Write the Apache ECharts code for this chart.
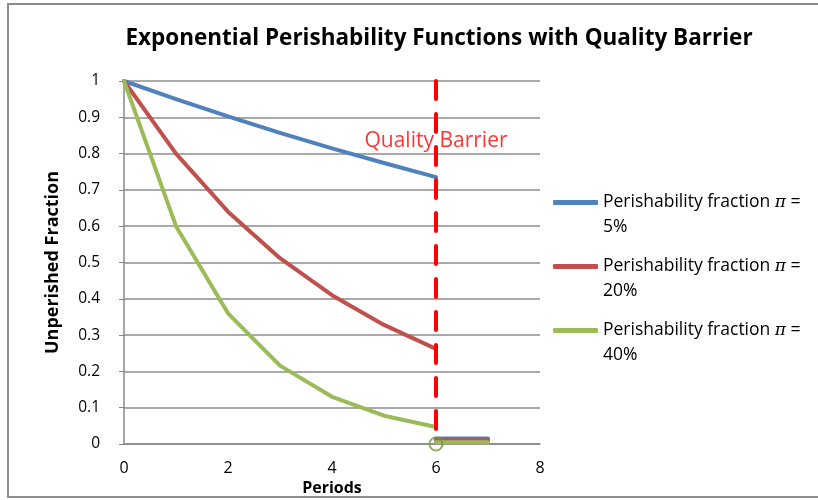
<!DOCTYPE html>
<html>
<head>
<meta charset="utf-8">
<script src="https://cdn.jsdelivr.net/npm/echarts@6/dist/echarts.min.js"></script>
<style>
  html, body { margin: 0; padding: 0; background: #fff; }
  #chart { width: 818px; height: 500px; }
</style>
</head>
<body>
<div id="chart"></div>
<script>
// periods 0..6 and the unperished fraction for each rate
var periods = [0, 1, 2, 3, 4, 5, 6];
var pi5 = [1, 0.95, 0.9025, 0.857, 0.8145, 0.774, 0.735];
var pi20 = [1, 0.8, 0.64, 0.512, 0.41, 0.328, 0.262];
var pi40 = [1, 0.6, 0.36, 0.216, 0.13, 0.078, 0.047];

// after the barrier: short flat pieces near zero
var tailX = [6, 7];
var tail5 = [0.015, 0.015];
var tail20 = [0.01, 0.01];
var tail40 = [0.005, 0.005];

var barrierX = 6;
var barrierY = [1, 0];
var barrierLabelY = 0.835;

var rates = ["5%", "20%", "40%"];
var names = rates.map(function (r) { return "Perishability fraction pi = " + r; });
var colors = ["#4F81BD", "#C0504D", "#9BBB59"];

function pairs(xs, ys) {
  return xs.map(function (x, i) { return [x, ys[i]]; });
}

var font = "'Open Sans', 'Noto Sans', sans-serif";
var chart = echarts.init(document.getElementById("chart"));

function lineSeries(name, data, color) {
  return {
    name: name || undefined,
    type: "line",
    data: data,
    symbol: "none",
    silent: true,
    lineStyle: { color: color, width: 4, cap: "round", join: "round" },
    itemStyle: { color: color },
    z: 3
  };
}

var option = {
  animation: false,
  title: {
    text: "Exponential Perishability Functions with Quality Barrier",
    left: 434,
    top: 22,
    textAlign: "center",
    textStyle: { fontFamily: font, fontSize: 22.5, fontWeight: "bold", color: "#000" }
  },
  grid: { left: 124, right: 278, top: 81, bottom: 56, outerBoundsMode: "none", containLabel: false },
  legend: {
    orient: "vertical",
    left: 553,
    top: 165,
    padding: 0,
    itemWidth: 45,
    itemHeight: 5,
    itemGap: -11,
    icon: "roundRect",
    data: names,
    selectedMode: false,
    // blank first line so the icon sits beside the first text line
    formatter: function (name) {
      var r = rates[names.indexOf(name)];
      return " \n{t|Perishability fraction }{p|\u03c0}{t| =}\n{t|" + r + "}";
    },
    textStyle: {
      fontFamily: font, fontSize: 17.5, color: "#000", lineHeight: 25,
      rich: {
        t: { fontFamily: font, fontSize: 17.5, color: "#000", lineHeight: 25 },
        p: { fontFamily: "'DejaVu Serif', serif", fontStyle: "italic", fontSize: 17, color: "#000", lineHeight: 25 }
      }
    }
  },
  xAxis: {
    type: "value",
    min: 0, max: 8, interval: 2,
    name: "Periods",
    nameLocation: "middle",
    nameGap: 25,
    nameTextStyle: { fontFamily: font, fontSize: 16, fontWeight: "bold", color: "#000" },
    axisLine: { show: true, lineStyle: { color: "#888", width: 1.5 } },
    axisTick: { show: false },
    axisLabel: { fontFamily: font, fontSize: 16, color: "#000", margin: 16 },
    splitLine: { show: false }
  },
  yAxis: {
    type: "value",
    min: 0, max: 1, interval: 0.1,
    name: "Unperished Fraction",
    nameLocation: "middle",
    nameGap: 62,
    nameTextStyle: { fontFamily: font, fontSize: 18, fontWeight: "bold", color: "#000" },
    axisLine: { show: true, lineStyle: { color: "#888", width: 1.5 } },
    axisTick: { show: true, length: 5, inside: false, lineStyle: { color: "#888" } },
    axisLabel: { fontFamily: font, fontSize: 15.5, color: "#000", margin: 24 },
    splitLine: { show: true, lineStyle: { color: "#8c8c8c", width: 1.5 } }
  },
  series: [
    lineSeries(names[0], pairs(periods, pi5), colors[0]),
    lineSeries(names[1], pairs(periods, pi20), colors[1]),
    lineSeries(names[2], pairs(periods, pi40), colors[2]),
    lineSeries(null, pairs(tailX, tail5), colors[0]),
    lineSeries(null, pairs(tailX, tail20), colors[1]),
    lineSeries(null, pairs(tailX, tail40), colors[2]),
    {
      type: "line",
      data: [[barrierX, barrierY[0]], [barrierX, barrierY[1]]],
      symbol: "none",
      silent: true,
      lineStyle: { color: "#FF0000", width: 4, type: [18, 15], cap: "round" },
      z: 4
    },
    {
      type: "scatter",
      data: [[barrierX, 0]],
      symbol: "circle",
      symbolSize: 13,
      silent: true,
      itemStyle: { color: "rgba(0,0,0,0)", borderColor: "#77933C", borderWidth: 2 },
      z: 5
    },
    {
      type: "scatter",
      data: [[barrierX, barrierLabelY]],
      symbolSize: 0,
      silent: true,
      label: {
        show: true,
        position: "inside",
        formatter: "Quality Barrier",
        fontFamily: font, fontSize: 21, color: "#FF0000"
      },
      z: 6
    }
  ],
  graphic: [{
    type: "rect",
    shape: { x: 8, y: 4, width: 830, height: 493 },
    style: { fill: "none", stroke: "#8c8c8c", lineWidth: 2 },
    silent: true
  }]
};

chart.setOption(option);
</script>
</body>
</html>
